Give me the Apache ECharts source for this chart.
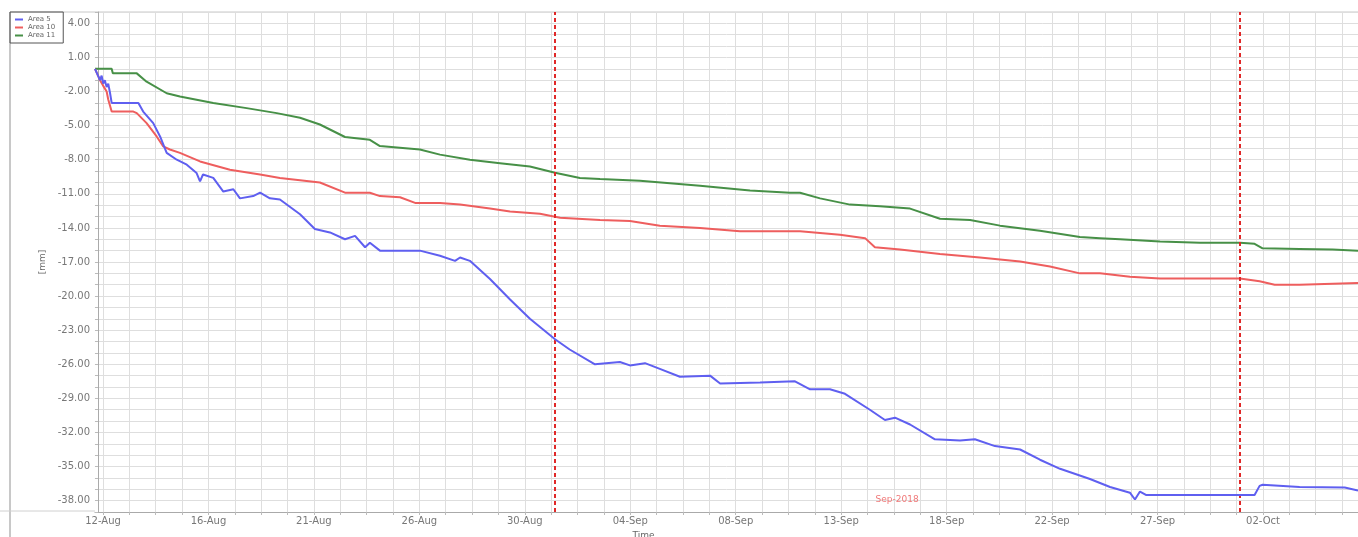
<!DOCTYPE html>
<html><head><meta charset="utf-8">
<script src="https://cdn.jsdelivr.net/npm/echarts@6/dist/echarts.min.js"></script>
<style>html,body{margin:0;padding:0;background:#fff}#c{width:1358px;height:537px}</style>
</head><body><div id="c"></div>
<script>
// x values: days after 12-Aug-2018 00:00
const seriesNames = ['Area 5', 'Area 10', 'Area 11'];
const seriesColors = ['#5f5ff0', '#ee5e5e', '#479047'];
const xTickLabels = ['12-Aug','16-Aug','21-Aug','26-Aug','30-Aug','04-Sep','08-Sep','13-Sep','18-Sep','22-Sep','27-Sep','02-Oct'];
const xTickFirst = 0.22;
const xTickStep = 4.619;
const xMin = -0.13, xMax = 55.19;
const monthMarkers = [20, 50];   // 01-Sep, 01-Oct
const monthLabel = 'Sep-2018';
const yTickLabelsEvery = 3, yTickLabelBase = -38;

const area5 = [[-0.13,0.0],[0.09,-1.0],[0.16,-0.6],[0.23,-1.3],[0.30,-1.0],[0.38,-1.6],[0.45,-1.3],[0.53,-2.15],[0.60,-3.0],[1.77,-3.0],[1.98,-3.76],[2.42,-4.78],[2.72,-5.95],[3.01,-7.4],[3.45,-8.0],[3.89,-8.44],[4.32,-9.17],[4.47,-9.9],[4.60,-9.3],[5.05,-9.6],[5.49,-10.8],[5.93,-10.6],[6.22,-11.4],[6.80,-11.2],[7.10,-10.9],[7.53,-11.4],[7.97,-11.5],[8.85,-12.8],[9.50,-14.1],[10.16,-14.4],[10.82,-15.0],[11.26,-14.7],[11.70,-15.7],[11.91,-15.3],[12.35,-16.0],[14.10,-16.0],[14.98,-16.45],[15.64,-16.9],[15.86,-16.6],[16.29,-16.9],[17.17,-18.5],[18.05,-20.3],[18.92,-22.0],[20.02,-23.8],[20.66,-24.7],[21.77,-26.0],[22.86,-25.8],[23.30,-26.1],[23.96,-25.9],[24.61,-26.4],[25.49,-27.1],[26.81,-27.0],[27.25,-27.7],[29.00,-27.6],[30.53,-27.5],[31.19,-28.2],[32.06,-28.2],[32.72,-28.6],[33.81,-30.0],[34.47,-30.9],[34.91,-30.7],[35.57,-31.3],[36.66,-32.6],[37.76,-32.7],[38.41,-32.6],[39.29,-33.2],[40.39,-33.5],[41.26,-34.4],[42.14,-35.2],[43.45,-36.1],[44.33,-36.8],[45.20,-37.3],[45.42,-37.9],[45.64,-37.2],[45.90,-37.5],[50.66,-37.5],[50.88,-36.7],[51.01,-36.6],[52.63,-36.8],[54.61,-36.85],[55.19,-37.1]];

const area10 = [[-0.13,0.0],[0.09,-1.0],[0.23,-1.5],[0.38,-2.0],[0.45,-2.7],[0.60,-3.76],[1.55,-3.76],[1.70,-3.9],[2.13,-4.78],[2.57,-5.95],[2.86,-6.83],[3.15,-7.1],[3.59,-7.4],[4.47,-8.15],[5.78,-8.88],[7.10,-9.3],[7.97,-9.6],[8.85,-9.8],[9.72,-10.0],[10.82,-10.9],[11.91,-10.9],[12.35,-11.2],[13.23,-11.3],[13.89,-11.8],[14.98,-11.8],[15.86,-11.95],[17.17,-12.3],[18.05,-12.55],[19.36,-12.75],[20.24,-13.1],[21.99,-13.3],[23.30,-13.4],[24.61,-13.8],[26.37,-14.0],[28.12,-14.3],[30.75,-14.3],[32.50,-14.6],[33.60,-14.9],[34.03,-15.7],[35.13,-15.9],[36.88,-16.3],[38.63,-16.6],[40.39,-16.95],[41.70,-17.4],[43.01,-18.0],[43.89,-18.0],[45.20,-18.3],[46.52,-18.45],[50.02,-18.45],[50.88,-18.7],[51.54,-19.0],[52.63,-19.0],[55.19,-18.85]];

const area11 = [[-0.13,0.0],[0.60,0.0],[0.65,-0.4],[1.70,-0.4],[2.13,-1.13],[3.01,-2.15],[3.59,-2.44],[5.05,-3.0],[6.51,-3.46],[7.83,-3.9],[8.85,-4.3],[9.72,-4.9],[10.82,-6.0],[11.91,-6.25],[12.35,-6.8],[14.10,-7.1],[14.98,-7.55],[16.29,-8.0],[17.61,-8.3],[18.92,-8.6],[20.02,-9.15],[21.11,-9.6],[21.99,-9.7],[23.74,-9.85],[26.37,-10.3],[28.56,-10.7],[30.31,-10.9],[30.75,-10.9],[31.63,-11.4],[32.94,-11.95],[34.25,-12.1],[35.57,-12.3],[36.88,-13.2],[38.20,-13.3],[39.51,-13.8],[41.26,-14.25],[43.01,-14.8],[43.89,-14.9],[44.77,-15.0],[46.52,-15.2],[48.27,-15.3],[50.02,-15.3],[50.66,-15.4],[51.01,-15.8],[52.63,-15.85],[54.08,-15.9],[55.19,-16.0]];

const seriesData = [area5, area10, area11];

const majorTicks = xTickLabels.map((_, i) => xTickFirst + i * xTickStep);
const minorTicks = [];
for (let k = 0; xTickFirst + k * xTickStep / 4 <= xMax; k++) minorTicks.push(xTickFirst + k * xTickStep / 4);

const chart = echarts.init(document.getElementById('c'), null, {renderer: 'canvas'});
const fontFam = 'DejaVu Sans';
chart.setOption({
  animation: false,
  backgroundColor: '#fff',
  grid: {left: 95, right: 0, top: 12, bottom: 25, containLabel: false, outerBoundsMode: 'none'},
  legend: {
    orient: 'vertical', left: 10, top: 12,
    data: seriesNames,
    icon: 'rect', itemWidth: 8, itemHeight: 2, itemGap: 1,
    padding: [4, 8, 4, 5],
    borderColor: '#555', borderWidth: 1,
    textStyle: {fontSize: 7, color: '#666', fontFamily: fontFam}
  },
  xAxis: {
    type: 'value', min: xMin, max: xMax,
    name: 'Time', nameLocation: 'middle', nameGap: 17,
    nameTextStyle: {fontSize: 9, color: '#666', fontFamily: fontFam, padding: [0, 166, 0, 0]},
    axisLine: {show: true, onZero: false, lineStyle: {color: '#aaa'}},
    axisTick: {show: true, length: 3, customValues: minorTicks, lineStyle: {color: '#bbb'}},
    axisLabel: {
      customValues: majorTicks, margin: 4, fontSize: 10, color: '#777', fontFamily: fontFam,
      formatter: v => xTickLabels[Math.round((v - xTickFirst) / xTickStep)] || ''
    },
    splitLine: {show: true, lineStyle: {color: '#dedede', width: 1}}
  },
  yAxis: {
    type: 'value', min: -39, max: 5, interval: 1,
    name: '[mm]', nameLocation: 'middle', nameGap: 48, nameRotate: 90,
    nameTextStyle: {fontSize: 9, color: '#666', fontFamily: fontFam},
    axisLine: {show: true, lineStyle: {color: '#aaa'}},
    axisTick: {show: true, length: 3, lineStyle: {color: '#bbb'}},
    axisLabel: {
      margin: 5, fontSize: 10, color: '#777', fontFamily: fontFam,
      formatter: v => ((v - yTickLabelBase) % yTickLabelsEvery === 0 ? v.toFixed(2) : '')
    },
    splitLine: {show: true, lineStyle: {color: '#dedede', width: 1}}
  },
  graphic: [
    {type: 'line', shape: {x1: 10, y1: 12, x2: 10, y2: 537}, style: {stroke: '#c8c8c8', lineWidth: 2}, silent: true},
    {type: 'line', shape: {x1: 10, y1: 12, x2: 1358, y2: 12}, style: {stroke: '#c8c8c8', lineWidth: 1}, silent: true},
    {type: 'line', shape: {x1: 0, y1: 511, x2: 95, y2: 511}, style: {stroke: '#d0d0d0', lineWidth: 1}, silent: true}
  ],
  series: seriesNames.map((name, i) => {
    const s = {
      name, type: 'line', data: seriesData[i], showSymbol: false, symbol: 'none',
      color: seriesColors[i], lineStyle: {width: 2, color: seriesColors[i]}, z: 3 - i + 2
    };
    if (i === 0) {
      s.markLine = {
        silent: true, symbol: 'none', label: {show: false},
        lineStyle: {color: '#e02828', type: [4, 3], width: 2},
        data: monthMarkers.map(d => ({xAxis: d}))
      };
      s.markArea = {
        silent: true,
        itemStyle: {color: 'rgba(0,0,0,0)'},
        label: {show: true, position: 'insideBottom', distance: 8, color: '#f07878', fontSize: 9, fontFamily: fontFam, formatter: monthLabel},
        data: [[{xAxis: monthMarkers[0]}, {xAxis: monthMarkers[1]}]]
      };
    }
    return s;
  })
});
</script>
</body></html>
